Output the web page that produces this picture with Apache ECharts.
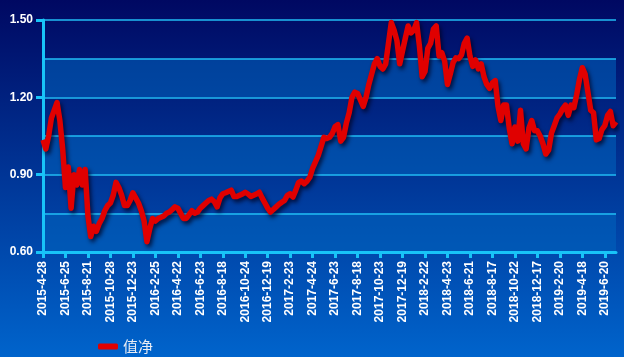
<!DOCTYPE html>
<html><head><meta charset="utf-8">
<script src="https://cdn.jsdelivr.net/npm/echarts@6/dist/echarts.min.js"></script>
<style>html,body{margin:0;padding:0;}#c{width:624px;height:357px;}</style>
</head><body><div id="c"></div>
<script>
var tickLabels = ['2015-4-28','2015-6-25','2015-8-21','2015-10-28','2015-12-23','2016-2-25','2016-4-22','2016-6-23','2016-8-18','2016-10-24','2016-12-19','2017-2-23','2017-4-24','2017-6-23','2017-8-18','2017-10-23','2017-12-19','2018-2-22','2018-4-23','2018-6-21','2018-8-17','2018-10-22','2018-12-17','2019-2-20','2019-4-18','2019-6-20'];
var seriesName = '值净';
var values = [
1.035,1.00,1.05,1.12,1.15,1.18,1.11,1.00,
0.85,0.93,0.77,0.90,0.86,0.92,0.86,0.92,
0.74,0.66,0.70,0.68,0.71,0.73,0.76,0.78,
0.79,0.82,0.87,0.85,0.82,0.78,0.78,0.80,
0.83,0.81,0.79,0.76,0.72,0.64,0.69,0.73,
0.72,0.73,0.735,0.74,0.75,0.755,0.765,0.775,
0.77,0.75,0.73,0.73,0.745,0.76,0.75,0.755,
0.77,0.78,0.79,0.80,0.805,0.795,0.775,0.81,
0.826,0.83,0.835,0.84,0.815,0.815,0.82,0.825,
0.832,0.825,0.815,0.82,0.825,0.832,0.81,0.79,
0.77,0.755,0.765,0.775,0.785,0.793,0.80,0.82,
0.826,0.813,0.84,0.87,0.875,0.865,0.875,0.89,
0.925,0.95,0.975,1.01,1.045,1.04,1.045,1.06,
1.087,1.094,1.03,1.045,1.10,1.14,1.20,1.22,
1.215,1.19,1.165,1.20,1.25,1.29,1.33,1.35,
1.32,1.31,1.33,1.41,1.49,1.46,1.42,1.33,
1.38,1.43,1.477,1.45,1.46,1.49,1.40,1.28,
1.30,1.39,1.41,1.465,1.477,1.36,1.373,1.34,
1.25,1.29,1.335,1.353,1.35,1.365,1.41,1.43,
1.36,1.32,1.345,1.31,1.33,1.28,1.25,1.235,
1.256,1.265,1.165,1.11,1.17,1.17,1.08,1.02,
1.085,1.03,1.15,1.02,1.00,1.08,1.11,1.07,
1.07,1.05,1.02,0.98,0.995,1.06,1.09,1.12,
1.135,1.155,1.17,1.13,1.17,1.16,1.21,1.27,
1.315,1.29,1.22,1.15,1.14,1.035,1.04,1.075,
1.09,1.13,1.145,1.09,1.105
];
var step = 8;
var categories = values.map(function(v,i){ return (i % step === 0 && tickLabels[i/step]) ? tickLabels[i/step] : ('p'+i); });

var chart = echarts.init(document.getElementById('c'));
var cyan = '#18c4f8';
chart.setOption({
  animation: false,
  backgroundColor: {type:'linear', x:0, y:0, x2:0, y2:1, colorStops:[{offset:0,color:'#000862'},{offset:1,color:'#0064cc'}]},
  grid: {left:43, right:8, top:20, bottom:105},
  legend: {
    left: 93, top: 334, itemWidth: 20, itemHeight: 6, icon: 'roundRect',
    textStyle: {color:'#e8ecf4', fontSize:15, fontFamily:'Noto Sans CJK SC'},
    data: [seriesName]
  },
  xAxis: {
    type:'category', data:categories, boundaryGap:false,
    axisLine:{lineStyle:{color:cyan, width:3}},
    axisTick:{show:true, length:6, lineStyle:{color:cyan, width:3}, interval:function(i){return i % step === 0;}},
    axisLabel:{rotate:90, color:'#ffffff', fontWeight:'bold', fontSize:12, fontFamily:'Liberation Sans', margin:9,
      interval:function(i){return i % step === 0;}},
    splitLine:{show:false}
  },
  yAxis: [{
    type:'value', min:0.6, max:1.5, interval:0.3, position:'left',
    axisLine:{show:true, lineStyle:{color:cyan, width:3}},
    axisTick:{show:true, length:7, lineStyle:{color:cyan, width:3}},
    axisLabel:{color:'#ffffff', fontWeight:'bold', fontSize:12, fontFamily:'Liberation Sans', margin:10,
      formatter:function(v){return v.toFixed(2);}},
    splitLine:{show:false}, splitArea:{show:false}
  },{
    type:'value', min:0.6, max:1.5, interval:0.15, position:'left',
    axisLine:{show:false}, axisTick:{show:false}, axisLabel:{show:false},
    splitLine:{show:true, lineStyle:{color:'#20bcf4', width:1.5}},
    splitArea:{show:true, areaStyle:{color:['rgba(0,100,190,0.55)','rgba(0,0,0,0)']}}
  }],
  series: [{
    name: seriesName, type:'line', data:values, symbol:'none', smooth:false, yAxisIndex:0,
    lineStyle:{color:'#e00000', width:5.5, shadowColor:'rgba(0,0,30,0.75)', shadowBlur:4, shadowOffsetX:2, shadowOffsetY:3, join:'round'},
    itemStyle:{color:'#e00000'}
  }]
});
</script></body></html>
